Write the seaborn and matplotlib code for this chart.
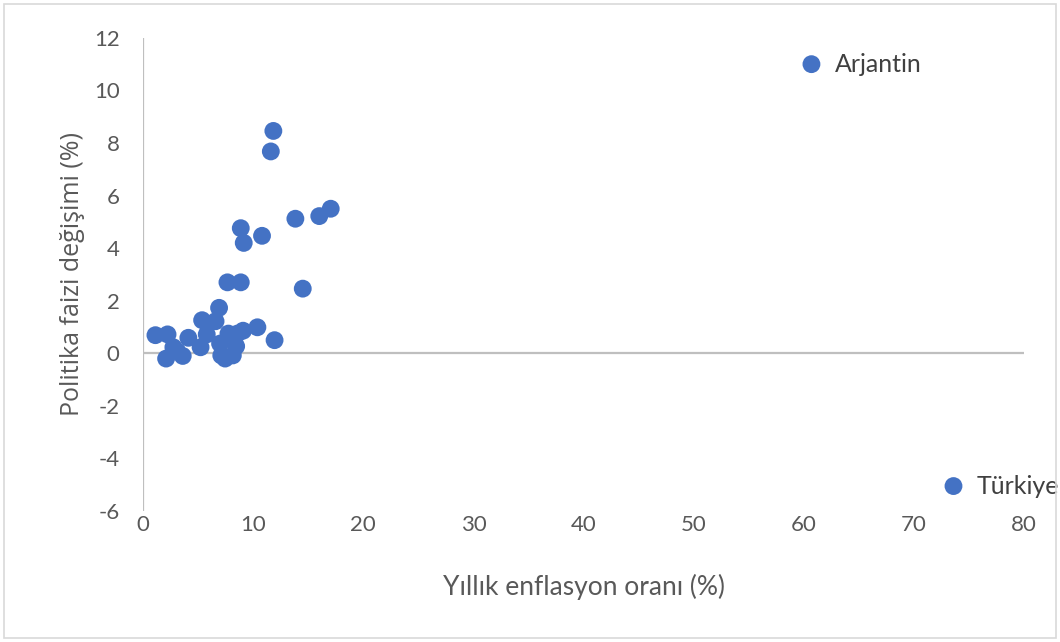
import numpy as np
import pandas as pd
import matplotlib
matplotlib.use('Agg')
import matplotlib.pyplot as plt
import seaborn as sns

# ----------------data----------------
inflation = [60.7, 73.6, 11.83, 11.6, 17.04, 16.0, 13.83, 8.87, 9.14, 10.8,
             7.66, 8.87, 14.5, 6.9, 5.36, 6.58, 10.38, 1.12, 2.22, 4.11,
             5.78, 7.75, 8.56, 9.08, 11.94, 5.22, 2.75, 6.99, 3.6, 2.09,
             7.1, 8.15, 7.45, 3.1, 8.45]
rate_change = [11.0, -5.05, 8.46, 7.68, 5.50, 5.22, 5.12, 4.76, 4.20, 4.47,
               2.70, 2.70, 2.46, 1.73, 1.26, 1.22, 0.99, 0.69, 0.72, 0.59,
               0.72, 0.75, 0.75, 0.86, 0.50, 0.23, 0.23, 0.37, -0.10, -0.20,
               -0.08, -0.08, -0.20, 0.08, 0.27]
labelled = ['Arjantin', 'Türkiye']

df = pd.DataFrame({'inflation': inflation, 'rate_change': rate_change})

sns.set_style('white')
plt.rcParams['font.family'] = ['Lato', 'DejaVu Sans']
plt.rcParams['axes.unicode_minus'] = False

fig = plt.figure(figsize=(10.6, 6.42), dpi=100)
ax = fig.add_axes([0.135, 0.204, 0.831, 0.737])

blue = '#4472C4'
grey_line = '#BFBFBF'
grey_text = '#595959'

sns.scatterplot(data=df, x='inflation', y='rate_change', ax=ax,
                color=blue, s=165, edgecolor='none', zorder=3, clip_on=False)

# axis lines drawn like excel: vertical at x=0, horizontal at y=0
ax.axvline(0, color=grey_line, lw=1.6, zorder=1)
ax.axhline(0, color=grey_line, lw=1.6, zorder=1)
for s in ax.spines.values():
    s.set_visible(False)

ax.set_xlim(0, 80)
ax.set_ylim(-6, 12)
ax.set_xticks(range(0, 81, 10))
ax.set_yticks(range(-6, 13, 2))
ax.tick_params(length=0, labelsize=16, labelcolor=grey_text)
ax.tick_params(axis='x', pad=3)
ax.tick_params(axis='y', pad=17)

ax.set_xlabel('Yıllık enflasyon oranı (%)', fontsize=19, color=grey_text, labelpad=28)
ax.set_ylabel('Politika faizi değişimi (%)', fontsize=18, color=grey_text, labelpad=6,
              family=['Open Sans', 'DejaVu Sans'])

for name, xv, yv in zip(labelled, inflation[:2], rate_change[:2]):
    ax.annotate(name, (xv, yv), xytext=(17, 0), textcoords='offset points',
                va='center', ha='left', fontsize=18, color='#404040',
                annotation_clip=False)

# light frame around the whole chart
fig.patches.append(plt.Rectangle((0.004, 0.006), 0.992, 0.988, transform=fig.transFigure,
                                 fill=False, edgecolor='#D9D9D9', lw=1.2))

fig.savefig('out.png', dpi=100)
